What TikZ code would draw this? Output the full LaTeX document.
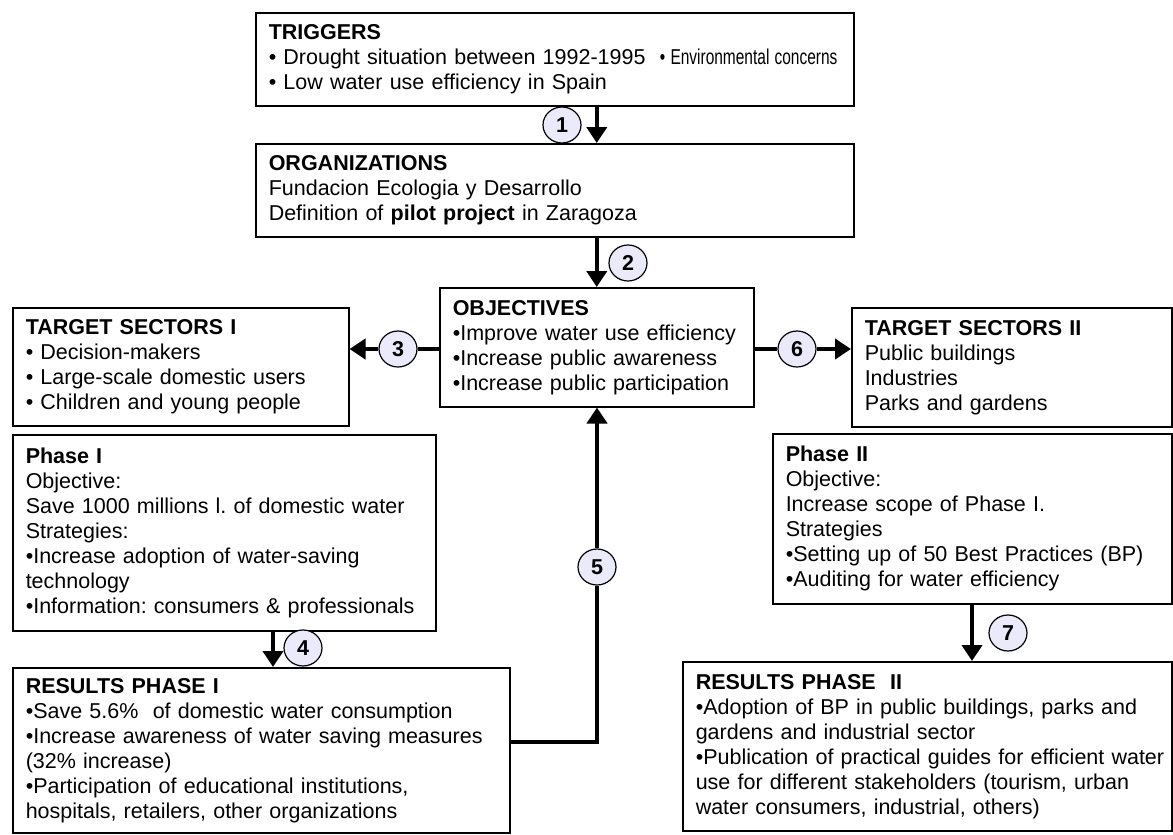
\documentclass[tikz,border=0pt]{standalone}
\usepackage{graphicx}
\usepackage{fontspec}
\setmainfont{Liberation Sans}
\usetikzlibrary{arrows.meta,shapes.geometric}

\definecolor{numfill}{RGB}{234,234,250}
\newcommand{\boxfont}{\fontsize{21.5}{25}\selectfont}
\hyphenpenalty=10000
\exhyphenpenalty=10000
\frenchspacing

\tikzset{
  blk/.style={draw, line width=1.5pt, anchor=north west, align=left, inner xsep=13pt, inner ysep=0pt, font=\boxfont},
  num/.style={draw, ellipse, line width=1.2pt, fill=numfill, minimum width=38pt, minimum height=36pt, inner sep=0pt, font=\boxfont\bfseries},
  thk/.style={line width=4pt},
  arr/.style={line width=4pt, -{Triangle[length=16pt,width=20pt]}}
}

\begin{document}
\begin{tikzpicture}[x=1pt,y=1pt,yscale=-1]
\useasboundingbox (0,0) rectangle (1173,835);

% boxes
\node[blk, text width=572pt, minimum height=93pt] (trig) at (255,12)
  {\textbf{TRIGGERS}\\
   \mbox{• Drought situation between 1992-1995\ \ \scalebox{0.72}[1]{• Environmental concerns}}\\
   • Low water use efficiency in Spain};
\node[blk, text width=572pt, minimum height=93pt] (org) at (255,143)
  {\textbf{ORGANIZATIONS}\\
   Fundacion Ecologia y Desarrollo\\
   Definition of \textbf{pilot project} in Zaragoza};
\node[blk, text width=288pt, minimum height=119pt] (obj) at (439,287)
  {\textbf{OBJECTIVES}\\
   •Improve water use efficiency\\
   •Increase public awareness\\
   •Increase public participation};
\node[blk, text width=310pt, minimum height=118pt] (ts1) at (12,307)
  {\textbf{TARGET SECTORS I}\\
   • Decision-makers\\
   • Large-scale domestic users\\
   • Children and young people};
\node[blk, text width=294pt, minimum height=119pt] (ts2) at (851,307)
  {\textbf{TARGET SECTORS II}\\
   Public buildings\\
   Industries\\
   Parks and gardens};
\node[blk, text width=397pt, minimum height=196pt] (ph1) at (12,434)
  {\textbf{Phase I}\\
   Objective:\\
   Save 1000 millions l. of domestic water\\
   Strategies:\\
   •Increase adoption of water-saving\\
   technology\\
   •Information: consumers \& professionals};
\node[blk, text width=373pt, minimum height=170pt] (ph2) at (772,433)
  {\textbf{Phase II}\\
   Objective:\\
   Increase scope of Phase I.\\
   Strategies\\
   •Setting up of 50 Best Practices (BP)\\
   •Auditing for water efficiency};
\node[blk, text width=471pt, minimum height=165pt] (res1) at (12,667)
  {\textbf{RESULTS PHASE I}\\
   •Save 5.6\%~ of domestic water consumption\\
   \mbox{•Increase awareness of water saving measures}\\
   (32\% increase)\\
   •Participation of educational institutions,\\
   hospitals, retailers, other organizations};
\node[blk, text width=463pt, minimum height=169pt] (res2) at (682,661)
  {\textbf{RESULTS PHASE~~II}\\
   •Adoption of BP in public buildings, parks and\\
   gardens and industrial sector\\
   \mbox{•Publication of practical guides for efficient water}\\
   use for different stakeholders (tourism, urban\\
   water consumers, industrial, others)};

% step numbers
\node[num] (n1) at (562,125) {1};
\node[num] (n2) at (628,263) {2};
\node[num] (n3) at (398,349) {3};
\node[num] (n4) at (303,648) {4};
\node[num] (n5) at (597,567) {5};
\node[num] (n6) at (797,349) {6};
\node[num] (n7) at (1008,633) {7};

\coordinate (x4) at (273,0);
\coordinate (x7) at (972,0);
\coordinate (c5) at (597,742);

% connectors
\draw[arr] (obj.north |- trig.south) -- (obj.north |- org.north);
\draw[arr] (obj.north |- org.south) -- (obj.north);
\draw[thk] (obj.west |- n3) -- (n3);
\draw[arr] (n3) -- (ts1.east |- n3);
\draw[thk] (obj.east |- n6) -- (n6);
\draw[arr] (n6) -- (ts2.west |- n6);
\draw[arr] (x4 |- ph1.south) -- (x4 |- res1.north);
\draw[thk] (res1.east |- c5) -- (c5) -- (n5);
\draw[arr] (n5) -- (n5 |- obj.south);
\draw[arr] (x7 |- ph2.south) -- (x7 |- res2.north);

\end{tikzpicture}
\end{document}
